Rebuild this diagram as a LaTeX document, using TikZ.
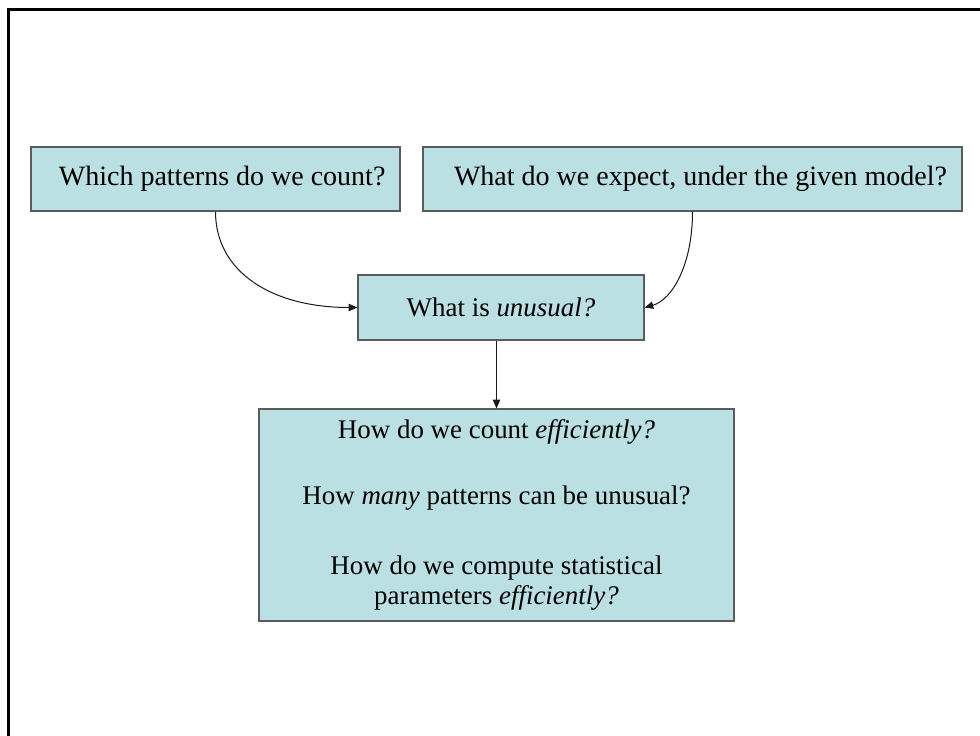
\documentclass[tikz,border=0pt]{standalone}
\usepackage{fontspec}
\setmainfont{Liberation Serif}
\usetikzlibrary{arrows.meta}
\definecolor{boxfill}{RGB}{187,224,227}
\definecolor{boxline}{RGB}{88,92,92}
\begin{document}
\begin{tikzpicture}[x=0.75pt,y=-0.75pt,
  qbox/.style={draw=boxline,line width=0.9pt,fill=boxfill,inner sep=0pt,
    align=center,font=\fontsize{20.2}{22.5}\selectfont},
  bigtext/.style={font=\fontsize{21}{22.5}\selectfont},
  link/.style={line width=0.75pt,draw=black!90,
    -{Triangle[length=6.5pt,width=5.5pt]}}]
  \useasboundingbox (0,0) rectangle (980,735);
  % slide frame
  \draw[line width=2.4pt] (8.5,9.5) rectangle (1000,760);
  % question boxes
  \node[qbox,bigtext,minimum width=369*0.75pt,minimum height=64*0.75pt] (count) at (215.5,179)
    {\hspace*{10pt}Which patterns do we count?};
  \node[qbox,bigtext,minimum width=539*0.75pt,minimum height=64*0.75pt] (expect) at (692.5,179)
    {\hspace*{12pt}What do we expect, under the given model?};
  \node[qbox,minimum width=286*0.75pt,minimum height=65*0.75pt] (unusual) at (501,307.5)
    {What is \textit{unusual?}};
  \node[qbox,minimum width=475*0.75pt,minimum height=212*0.75pt] (how) at (496.5,515)
    {How do we count \textit{efficiently?}\\[27pt]
     How \textit{many} patterns can be unusual?\\[30pt]
     How do we compute statistical\\
     parameters \textit{efficiently?}};
  % connectors
  \draw[link] (count.south) .. controls (215.5,272) and (272,307.5) .. (unusual.west);
  \draw[link] (expect.south) .. controls (692.5,265) and (672,300) .. (unusual.east);
  \draw[link] (unusual.south -| how.north) -- (how.north);
\end{tikzpicture}
\end{document}
